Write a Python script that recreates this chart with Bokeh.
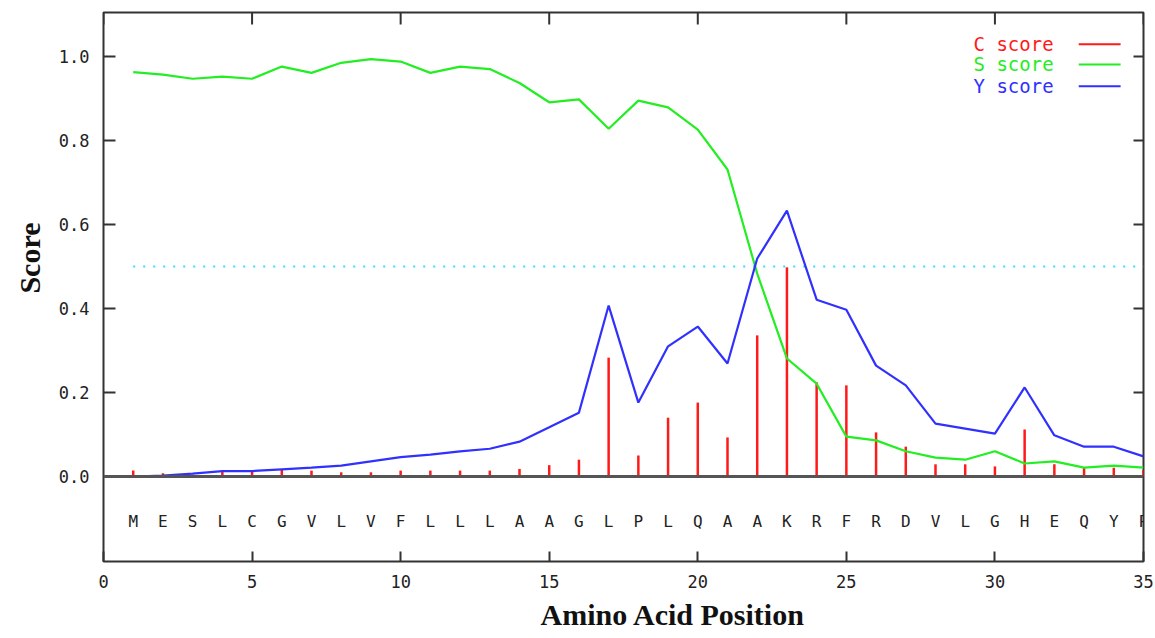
from bokeh.plotting import figure
from bokeh.models import (Range1d, FixedTicker, LinearAxis, Title, Span,
                          ColumnDataSource, PrintfTickFormatter)
from bokeh.core.properties import value
from bokeh.embed import file_html
from bokeh.resources import INLINE

# ---------------- data ----------------
residues = list("MESLCGVLVFLLLAAGLPLQAAKRFRDVLGHEQYP")
positions = list(range(1, len(residues) + 1))

c_score = [0.014, 0.008, 0.004, 0.014, 0.012, 0.017, 0.014, 0.010, 0.010, 0.014,
           0.014, 0.014, 0.014, 0.018, 0.027, 0.040, 0.283, 0.050, 0.140, 0.176,
           0.093, 0.336, 0.498, 0.224, 0.217, 0.105, 0.071, 0.029, 0.029, 0.024,
           0.112, 0.029, 0.021, 0.021, 0.015]
s_score = [0.963, 0.957, 0.947, 0.952, 0.947, 0.976, 0.961, 0.985, 0.994, 0.988,
           0.961, 0.976, 0.970, 0.937, 0.891, 0.898, 0.828, 0.895, 0.879, 0.826,
           0.731, 0.483, 0.281, 0.221, 0.095, 0.086, 0.060, 0.045, 0.040, 0.060,
           0.031, 0.036, 0.021, 0.026, 0.021]
y_score = [0.000, 0.002, 0.007, 0.013, 0.013, 0.017, 0.021, 0.026, 0.036, 0.046,
           0.052, 0.060, 0.066, 0.083, 0.117, 0.152, 0.407, 0.176, 0.310, 0.357,
           0.269, 0.519, 0.633, 0.421, 0.397, 0.264, 0.217, 0.126, 0.114, 0.102,
           0.212, 0.098, 0.071, 0.071, 0.048]
threshold = 0.5

y_ticks = [0.0, 0.2, 0.4, 0.6, 0.8, 1.0]
x_ticks = [0, 5, 10, 15, 20, 25, 30, 35]
legend_labels = ["C score", "S score", "Y score"]
x_title = "Amino Acid Position"
y_title = "Score"

# ---------------- styles ----------------
RED = "#ff1a1a"
GREEN = "#22ee22"
BLUE = "#3030ff"
CYAN = "#33ddff"
DARK = "#333333"
MONO = "DejaVu Sans Mono"
SERIF = "Liberation Serif"

X0, X1 = 0, 35
Y0, Y1 = -0.2024, 1.1048

p = figure(width=1155, height=638, output_backend="svg", toolbar_location=None,
           x_range=Range1d(X0, X1), y_range=Range1d(Y0, Y1),
           min_border_left=103, min_border_right=12, min_border_top=12,
           min_border_bottom=77, x_axis_type=None, y_axis_type=None)
p.grid.visible = False
p.outline_line_color = DARK
p.outline_line_width = 2
p.background_fill_color = "white"
p.border_fill_color = "white"


def style_axis(ax, tick_in):
    ax.axis_line_color = None
    ax.major_tick_in = tick_in
    ax.major_tick_out = 0
    ax.major_tick_line_color = DARK
    ax.major_tick_line_width = 2
    ax.minor_tick_line_color = None
    ax.major_label_text_font = MONO
    ax.major_label_text_font_size = "17px"
    ax.major_label_text_color = "#222222"


yax = LinearAxis(ticker=FixedTicker(ticks=y_ticks),
                 formatter=PrintfTickFormatter(format="%.1f"))
style_axis(yax, 12)
yax.major_label_standoff = 14
p.add_layout(yax, "left")

xax = LinearAxis(ticker=FixedTicker(ticks=x_ticks))
style_axis(xax, 10)
xax.major_label_standoff = 13
p.add_layout(xax, "below")

p.add_layout(Title(text=y_title, align="right", offset=210, standoff=19,
                   text_font=SERIF, text_font_style="bold", text_font_size="30px",
                   text_color="#111111"), "left")
p.add_layout(Title(text=x_title, align="left", offset=437, standoff=10,
                   text_font=SERIF, text_font_style="bold", text_font_size="30px",
                   text_color="#111111"), "below")

# mirrored inward ticks on the top and right edges of the frame
tick_len_x = 10 * (X1 - X0) / 1040
tick_len_y = 12 * (Y1 - Y0) / 549
p.segment(x0=[X1] * len(y_ticks), x1=[X1 - tick_len_x] * len(y_ticks),
          y0=y_ticks, y1=y_ticks, line_color=DARK, line_width=2)
p.segment(x0=x_ticks, x1=x_ticks, y0=[Y1] * len(x_ticks),
          y1=[Y1 - tick_len_y] * len(x_ticks), line_color=DARK, line_width=2)

# zero line
p.add_layout(Span(location=0, dimension="width", line_color="#555555", line_width=3))

# threshold dotted line
p.segment(x0=positions[0], x1=positions[-1], y0=threshold, y1=threshold,
          line_color=CYAN, line_width=2, line_dash="2 8")

src = ColumnDataSource(dict(x=positions, c=c_score, s=s_score, y=y_score,
                            aa=residues, zero=[0] * len(positions),
                            lab=[-0.107] * len(positions)))

p.segment(x0="x", x1="x", y0="zero", y1="c", source=src, line_color=RED, line_width=2.5)
p.line("x", "s", source=src, line_color=GREEN, line_width=2.2)
p.line("x", "y", source=src, line_color=BLUE, line_width=2.2)

p.text(x="x", y="lab", text="aa", source=src, text_font=value(MONO),
       text_font_size="16px", text_align="center", text_baseline="middle",
       text_color="#222222")

# legend (text left, line right)
leg_colors = [RED, GREEN, BLUE]
leg_y = [1.029, 0.981, 0.929]
leg_src = ColumnDataSource(dict(t=legend_labels, c=leg_colors, y=leg_y,
                                tx=[29.28] * 3, x0=[32.82] * 3, x1=[34.23] * 3))
p.text(x="tx", y="y", text="t", text_color="c", source=leg_src,
       text_font=value(MONO), text_font_size="19px", text_baseline="middle")
p.segment(x0="x0", x1="x1", y0="y", y1="y", line_color="c", line_width=2, source=leg_src)

open("out.html", "w").write(file_html(p, INLINE))
